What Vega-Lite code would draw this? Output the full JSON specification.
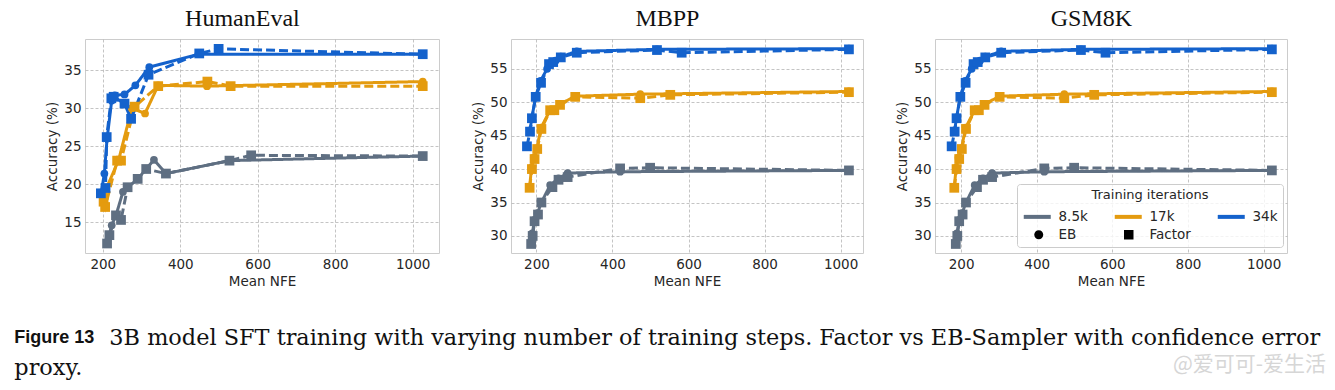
{
  "$schema": "https://vega.github.io/schema/vega-lite/v6.json",
  "padding": {"left": 14, "top": 6, "right": 5, "bottom": 5},
  "background": "white",
  "config": {
    "font": "DejaVu Sans",
    "view": {"stroke": "#cccccc", "strokeWidth": 1},
    "axis": {"domain": false, "ticks": false, "grid": true, "gridColor": "#b5b5b5", "gridDash": [3, 2], "gridWidth": 0.8,
      "labelFont": "DejaVu Sans", "labelFontSize": 13.5, "labelColor": "#262626", "labelPadding": 4,
      "titleFont": "DejaVu Sans", "titleFontSize": 13.5, "titleFontWeight": "normal", "titleColor": "#262626", "titlePadding": 4}
  },
  "datasets": {
    "d": [
      {"task": "HumanEval", "iter": "8.5k", "method": "EB", "nfe": 211, "acc": 12.2},
      {"task": "HumanEval", "iter": "8.5k", "method": "EB", "nfe": 223, "acc": 14.6},
      {"task": "HumanEval", "iter": "8.5k", "method": "EB", "nfe": 234, "acc": 15.9},
      {"task": "HumanEval", "iter": "8.5k", "method": "EB", "nfe": 252, "acc": 19.0},
      {"task": "HumanEval", "iter": "8.5k", "method": "EB", "nfe": 290, "acc": 20.7},
      {"task": "HumanEval", "iter": "8.5k", "method": "EB", "nfe": 312, "acc": 22.0},
      {"task": "HumanEval", "iter": "8.5k", "method": "EB", "nfe": 332, "acc": 23.2},
      {"task": "HumanEval", "iter": "8.5k", "method": "EB", "nfe": 363, "acc": 21.4},
      {"task": "HumanEval", "iter": "8.5k", "method": "EB", "nfe": 527, "acc": 23.1},
      {"task": "HumanEval", "iter": "8.5k", "method": "EB", "nfe": 1026, "acc": 23.7},
      {"task": "HumanEval", "iter": "8.5k", "method": "Factor", "nfe": 211, "acc": 12.2},
      {"task": "HumanEval", "iter": "8.5k", "method": "Factor", "nfe": 217, "acc": 13.3},
      {"task": "HumanEval", "iter": "8.5k", "method": "Factor", "nfe": 234, "acc": 15.9},
      {"task": "HumanEval", "iter": "8.5k", "method": "Factor", "nfe": 247, "acc": 15.3},
      {"task": "HumanEval", "iter": "8.5k", "method": "Factor", "nfe": 264, "acc": 19.6},
      {"task": "HumanEval", "iter": "8.5k", "method": "Factor", "nfe": 290, "acc": 20.7},
      {"task": "HumanEval", "iter": "8.5k", "method": "Factor", "nfe": 312, "acc": 22.0},
      {"task": "HumanEval", "iter": "8.5k", "method": "Factor", "nfe": 363, "acc": 21.4},
      {"task": "HumanEval", "iter": "8.5k", "method": "Factor", "nfe": 527, "acc": 23.1},
      {"task": "HumanEval", "iter": "8.5k", "method": "Factor", "nfe": 583, "acc": 23.8},
      {"task": "HumanEval", "iter": "8.5k", "method": "Factor", "nfe": 1026, "acc": 23.7},
      {"task": "HumanEval", "iter": "17k", "method": "EB", "nfe": 202, "acc": 18.6},
      {"task": "HumanEval", "iter": "17k", "method": "EB", "nfe": 241, "acc": 23.2},
      {"task": "HumanEval", "iter": "17k", "method": "EB", "nfe": 275, "acc": 30.0},
      {"task": "HumanEval", "iter": "17k", "method": "EB", "nfe": 309, "acc": 29.3},
      {"task": "HumanEval", "iter": "17k", "method": "EB", "nfe": 343, "acc": 33.0},
      {"task": "HumanEval", "iter": "17k", "method": "EB", "nfe": 469, "acc": 32.9},
      {"task": "HumanEval", "iter": "17k", "method": "EB", "nfe": 1026, "acc": 33.5},
      {"task": "HumanEval", "iter": "17k", "method": "Factor", "nfe": 202, "acc": 17.7},
      {"task": "HumanEval", "iter": "17k", "method": "Factor", "nfe": 206, "acc": 17.0},
      {"task": "HumanEval", "iter": "17k", "method": "Factor", "nfe": 237, "acc": 23.1},
      {"task": "HumanEval", "iter": "17k", "method": "Factor", "nfe": 247, "acc": 23.1},
      {"task": "HumanEval", "iter": "17k", "method": "Factor", "nfe": 282, "acc": 30.2},
      {"task": "HumanEval", "iter": "17k", "method": "Factor", "nfe": 343, "acc": 32.9},
      {"task": "HumanEval", "iter": "17k", "method": "Factor", "nfe": 470, "acc": 33.5},
      {"task": "HumanEval", "iter": "17k", "method": "Factor", "nfe": 530, "acc": 32.9},
      {"task": "HumanEval", "iter": "17k", "method": "Factor", "nfe": 1026, "acc": 32.9},
      {"task": "HumanEval", "iter": "34k", "method": "EB", "nfe": 196, "acc": 18.9},
      {"task": "HumanEval", "iter": "34k", "method": "EB", "nfe": 204, "acc": 21.4},
      {"task": "HumanEval", "iter": "34k", "method": "EB", "nfe": 211, "acc": 26.0},
      {"task": "HumanEval", "iter": "34k", "method": "EB", "nfe": 223, "acc": 31.0},
      {"task": "HumanEval", "iter": "34k", "method": "EB", "nfe": 231, "acc": 31.7},
      {"task": "HumanEval", "iter": "34k", "method": "EB", "nfe": 256, "acc": 31.8},
      {"task": "HumanEval", "iter": "34k", "method": "EB", "nfe": 284, "acc": 33.0},
      {"task": "HumanEval", "iter": "34k", "method": "EB", "nfe": 320, "acc": 35.4},
      {"task": "HumanEval", "iter": "34k", "method": "EB", "nfe": 447, "acc": 37.1},
      {"task": "HumanEval", "iter": "34k", "method": "EB", "nfe": 1026, "acc": 37.1},
      {"task": "HumanEval", "iter": "34k", "method": "Factor", "nfe": 195, "acc": 18.8},
      {"task": "HumanEval", "iter": "34k", "method": "Factor", "nfe": 207, "acc": 19.5},
      {"task": "HumanEval", "iter": "34k", "method": "Factor", "nfe": 210, "acc": 26.2},
      {"task": "HumanEval", "iter": "34k", "method": "Factor", "nfe": 222, "acc": 31.3},
      {"task": "HumanEval", "iter": "34k", "method": "Factor", "nfe": 228, "acc": 31.5},
      {"task": "HumanEval", "iter": "34k", "method": "Factor", "nfe": 256, "acc": 30.6},
      {"task": "HumanEval", "iter": "34k", "method": "Factor", "nfe": 273, "acc": 28.6},
      {"task": "HumanEval", "iter": "34k", "method": "Factor", "nfe": 318, "acc": 34.4},
      {"task": "HumanEval", "iter": "34k", "method": "Factor", "nfe": 449, "acc": 37.2},
      {"task": "HumanEval", "iter": "34k", "method": "Factor", "nfe": 499, "acc": 37.8},
      {"task": "HumanEval", "iter": "34k", "method": "Factor", "nfe": 1026, "acc": 37.1},

      {"task": "MBPP", "iter": "8.5k", "method": "EB", "nfe": 186, "acc": 28.9},
      {"task": "MBPP", "iter": "8.5k", "method": "EB", "nfe": 189, "acc": 30.4},
      {"task": "MBPP", "iter": "8.5k", "method": "EB", "nfe": 195, "acc": 32.4},
      {"task": "MBPP", "iter": "8.5k", "method": "EB", "nfe": 203, "acc": 33.4},
      {"task": "MBPP", "iter": "8.5k", "method": "EB", "nfe": 212, "acc": 34.9},
      {"task": "MBPP", "iter": "8.5k", "method": "EB", "nfe": 236, "acc": 37.6},
      {"task": "MBPP", "iter": "8.5k", "method": "EB", "nfe": 258, "acc": 38.6},
      {"task": "MBPP", "iter": "8.5k", "method": "EB", "nfe": 282, "acc": 39.4},
      {"task": "MBPP", "iter": "8.5k", "method": "EB", "nfe": 420, "acc": 39.6},
      {"task": "MBPP", "iter": "8.5k", "method": "EB", "nfe": 1022, "acc": 39.8},
      {"task": "MBPP", "iter": "8.5k", "method": "Factor", "nfe": 186, "acc": 28.8},
      {"task": "MBPP", "iter": "8.5k", "method": "Factor", "nfe": 190, "acc": 30.0},
      {"task": "MBPP", "iter": "8.5k", "method": "Factor", "nfe": 195, "acc": 32.2},
      {"task": "MBPP", "iter": "8.5k", "method": "Factor", "nfe": 204, "acc": 33.2},
      {"task": "MBPP", "iter": "8.5k", "method": "Factor", "nfe": 213, "acc": 35.0},
      {"task": "MBPP", "iter": "8.5k", "method": "Factor", "nfe": 242, "acc": 37.3},
      {"task": "MBPP", "iter": "8.5k", "method": "Factor", "nfe": 258, "acc": 38.4},
      {"task": "MBPP", "iter": "8.5k", "method": "Factor", "nfe": 282, "acc": 38.8},
      {"task": "MBPP", "iter": "8.5k", "method": "Factor", "nfe": 420, "acc": 40.1},
      {"task": "MBPP", "iter": "8.5k", "method": "Factor", "nfe": 499, "acc": 40.2},
      {"task": "MBPP", "iter": "8.5k", "method": "Factor", "nfe": 1022, "acc": 39.8},
      {"task": "MBPP", "iter": "17k", "method": "EB", "nfe": 182, "acc": 37.3},
      {"task": "MBPP", "iter": "17k", "method": "EB", "nfe": 187, "acc": 40.2},
      {"task": "MBPP", "iter": "17k", "method": "EB", "nfe": 193, "acc": 41.7},
      {"task": "MBPP", "iter": "17k", "method": "EB", "nfe": 201, "acc": 43.1},
      {"task": "MBPP", "iter": "17k", "method": "EB", "nfe": 212, "acc": 46.2},
      {"task": "MBPP", "iter": "17k", "method": "EB", "nfe": 236, "acc": 48.8},
      {"task": "MBPP", "iter": "17k", "method": "EB", "nfe": 262, "acc": 49.7},
      {"task": "MBPP", "iter": "17k", "method": "EB", "nfe": 302, "acc": 50.9},
      {"task": "MBPP", "iter": "17k", "method": "EB", "nfe": 473, "acc": 51.2},
      {"task": "MBPP", "iter": "17k", "method": "EB", "nfe": 1022, "acc": 51.6},
      {"task": "MBPP", "iter": "17k", "method": "Factor", "nfe": 182, "acc": 37.2},
      {"task": "MBPP", "iter": "17k", "method": "Factor", "nfe": 188, "acc": 40.0},
      {"task": "MBPP", "iter": "17k", "method": "Factor", "nfe": 195, "acc": 41.5},
      {"task": "MBPP", "iter": "17k", "method": "Factor", "nfe": 202, "acc": 43.0},
      {"task": "MBPP", "iter": "17k", "method": "Factor", "nfe": 213, "acc": 46.0},
      {"task": "MBPP", "iter": "17k", "method": "Factor", "nfe": 236, "acc": 48.8},
      {"task": "MBPP", "iter": "17k", "method": "Factor", "nfe": 247, "acc": 48.8},
      {"task": "MBPP", "iter": "17k", "method": "Factor", "nfe": 262, "acc": 49.6},
      {"task": "MBPP", "iter": "17k", "method": "Factor", "nfe": 302, "acc": 50.8},
      {"task": "MBPP", "iter": "17k", "method": "Factor", "nfe": 473, "acc": 50.6},
      {"task": "MBPP", "iter": "17k", "method": "Factor", "nfe": 552, "acc": 51.1},
      {"task": "MBPP", "iter": "17k", "method": "Factor", "nfe": 1022, "acc": 51.5},
      {"task": "MBPP", "iter": "34k", "method": "EB", "nfe": 183, "acc": 45.8},
      {"task": "MBPP", "iter": "34k", "method": "EB", "nfe": 188, "acc": 47.7},
      {"task": "MBPP", "iter": "34k", "method": "EB", "nfe": 198, "acc": 50.9},
      {"task": "MBPP", "iter": "34k", "method": "EB", "nfe": 211, "acc": 53.2},
      {"task": "MBPP", "iter": "34k", "method": "EB", "nfe": 228, "acc": 55.0},
      {"task": "MBPP", "iter": "34k", "method": "EB", "nfe": 236, "acc": 55.8},
      {"task": "MBPP", "iter": "34k", "method": "EB", "nfe": 250, "acc": 56.2},
      {"task": "MBPP", "iter": "34k", "method": "EB", "nfe": 264, "acc": 56.8},
      {"task": "MBPP", "iter": "34k", "method": "EB", "nfe": 306, "acc": 57.6},
      {"task": "MBPP", "iter": "34k", "method": "EB", "nfe": 517, "acc": 57.9},
      {"task": "MBPP", "iter": "34k", "method": "EB", "nfe": 1022, "acc": 58.0},
      {"task": "MBPP", "iter": "34k", "method": "Factor", "nfe": 175, "acc": 43.4},
      {"task": "MBPP", "iter": "34k", "method": "Factor", "nfe": 183, "acc": 45.6},
      {"task": "MBPP", "iter": "34k", "method": "Factor", "nfe": 188, "acc": 47.6},
      {"task": "MBPP", "iter": "34k", "method": "Factor", "nfe": 198, "acc": 50.8},
      {"task": "MBPP", "iter": "34k", "method": "Factor", "nfe": 212, "acc": 52.9},
      {"task": "MBPP", "iter": "34k", "method": "Factor", "nfe": 233, "acc": 55.7},
      {"task": "MBPP", "iter": "34k", "method": "Factor", "nfe": 244, "acc": 56.0},
      {"task": "MBPP", "iter": "34k", "method": "Factor", "nfe": 264, "acc": 56.7},
      {"task": "MBPP", "iter": "34k", "method": "Factor", "nfe": 306, "acc": 57.4},
      {"task": "MBPP", "iter": "34k", "method": "Factor", "nfe": 517, "acc": 57.8},
      {"task": "MBPP", "iter": "34k", "method": "Factor", "nfe": 582, "acc": 57.4},
      {"task": "MBPP", "iter": "34k", "method": "Factor", "nfe": 1022, "acc": 57.9},

      {"task": "GSM8K", "iter": "8.5k", "method": "EB", "nfe": 186, "acc": 28.9},
      {"task": "GSM8K", "iter": "8.5k", "method": "EB", "nfe": 189, "acc": 30.4},
      {"task": "GSM8K", "iter": "8.5k", "method": "EB", "nfe": 195, "acc": 32.4},
      {"task": "GSM8K", "iter": "8.5k", "method": "EB", "nfe": 203, "acc": 33.4},
      {"task": "GSM8K", "iter": "8.5k", "method": "EB", "nfe": 212, "acc": 34.9},
      {"task": "GSM8K", "iter": "8.5k", "method": "EB", "nfe": 236, "acc": 37.6},
      {"task": "GSM8K", "iter": "8.5k", "method": "EB", "nfe": 258, "acc": 38.6},
      {"task": "GSM8K", "iter": "8.5k", "method": "EB", "nfe": 282, "acc": 39.4},
      {"task": "GSM8K", "iter": "8.5k", "method": "EB", "nfe": 420, "acc": 39.6},
      {"task": "GSM8K", "iter": "8.5k", "method": "EB", "nfe": 1022, "acc": 39.8},
      {"task": "GSM8K", "iter": "8.5k", "method": "Factor", "nfe": 186, "acc": 28.8},
      {"task": "GSM8K", "iter": "8.5k", "method": "Factor", "nfe": 190, "acc": 30.0},
      {"task": "GSM8K", "iter": "8.5k", "method": "Factor", "nfe": 195, "acc": 32.2},
      {"task": "GSM8K", "iter": "8.5k", "method": "Factor", "nfe": 204, "acc": 33.2},
      {"task": "GSM8K", "iter": "8.5k", "method": "Factor", "nfe": 213, "acc": 35.0},
      {"task": "GSM8K", "iter": "8.5k", "method": "Factor", "nfe": 242, "acc": 37.3},
      {"task": "GSM8K", "iter": "8.5k", "method": "Factor", "nfe": 258, "acc": 38.4},
      {"task": "GSM8K", "iter": "8.5k", "method": "Factor", "nfe": 282, "acc": 38.8},
      {"task": "GSM8K", "iter": "8.5k", "method": "Factor", "nfe": 420, "acc": 40.1},
      {"task": "GSM8K", "iter": "8.5k", "method": "Factor", "nfe": 499, "acc": 40.2},
      {"task": "GSM8K", "iter": "8.5k", "method": "Factor", "nfe": 1022, "acc": 39.8},
      {"task": "GSM8K", "iter": "17k", "method": "EB", "nfe": 182, "acc": 37.3},
      {"task": "GSM8K", "iter": "17k", "method": "EB", "nfe": 187, "acc": 40.2},
      {"task": "GSM8K", "iter": "17k", "method": "EB", "nfe": 193, "acc": 41.7},
      {"task": "GSM8K", "iter": "17k", "method": "EB", "nfe": 201, "acc": 43.1},
      {"task": "GSM8K", "iter": "17k", "method": "EB", "nfe": 212, "acc": 46.2},
      {"task": "GSM8K", "iter": "17k", "method": "EB", "nfe": 236, "acc": 48.8},
      {"task": "GSM8K", "iter": "17k", "method": "EB", "nfe": 262, "acc": 49.7},
      {"task": "GSM8K", "iter": "17k", "method": "EB", "nfe": 302, "acc": 50.9},
      {"task": "GSM8K", "iter": "17k", "method": "EB", "nfe": 473, "acc": 51.2},
      {"task": "GSM8K", "iter": "17k", "method": "EB", "nfe": 1022, "acc": 51.6},
      {"task": "GSM8K", "iter": "17k", "method": "Factor", "nfe": 182, "acc": 37.2},
      {"task": "GSM8K", "iter": "17k", "method": "Factor", "nfe": 188, "acc": 40.0},
      {"task": "GSM8K", "iter": "17k", "method": "Factor", "nfe": 195, "acc": 41.5},
      {"task": "GSM8K", "iter": "17k", "method": "Factor", "nfe": 202, "acc": 43.0},
      {"task": "GSM8K", "iter": "17k", "method": "Factor", "nfe": 213, "acc": 46.0},
      {"task": "GSM8K", "iter": "17k", "method": "Factor", "nfe": 236, "acc": 48.8},
      {"task": "GSM8K", "iter": "17k", "method": "Factor", "nfe": 247, "acc": 48.8},
      {"task": "GSM8K", "iter": "17k", "method": "Factor", "nfe": 262, "acc": 49.6},
      {"task": "GSM8K", "iter": "17k", "method": "Factor", "nfe": 302, "acc": 50.8},
      {"task": "GSM8K", "iter": "17k", "method": "Factor", "nfe": 473, "acc": 50.6},
      {"task": "GSM8K", "iter": "17k", "method": "Factor", "nfe": 552, "acc": 51.1},
      {"task": "GSM8K", "iter": "17k", "method": "Factor", "nfe": 1022, "acc": 51.5},
      {"task": "GSM8K", "iter": "34k", "method": "EB", "nfe": 183, "acc": 45.8},
      {"task": "GSM8K", "iter": "34k", "method": "EB", "nfe": 188, "acc": 47.7},
      {"task": "GSM8K", "iter": "34k", "method": "EB", "nfe": 198, "acc": 50.9},
      {"task": "GSM8K", "iter": "34k", "method": "EB", "nfe": 211, "acc": 53.2},
      {"task": "GSM8K", "iter": "34k", "method": "EB", "nfe": 228, "acc": 55.0},
      {"task": "GSM8K", "iter": "34k", "method": "EB", "nfe": 236, "acc": 55.8},
      {"task": "GSM8K", "iter": "34k", "method": "EB", "nfe": 250, "acc": 56.2},
      {"task": "GSM8K", "iter": "34k", "method": "EB", "nfe": 264, "acc": 56.8},
      {"task": "GSM8K", "iter": "34k", "method": "EB", "nfe": 306, "acc": 57.6},
      {"task": "GSM8K", "iter": "34k", "method": "EB", "nfe": 517, "acc": 57.9},
      {"task": "GSM8K", "iter": "34k", "method": "EB", "nfe": 1022, "acc": 58.0},
      {"task": "GSM8K", "iter": "34k", "method": "Factor", "nfe": 175, "acc": 43.4},
      {"task": "GSM8K", "iter": "34k", "method": "Factor", "nfe": 183, "acc": 45.6},
      {"task": "GSM8K", "iter": "34k", "method": "Factor", "nfe": 188, "acc": 47.6},
      {"task": "GSM8K", "iter": "34k", "method": "Factor", "nfe": 198, "acc": 50.8},
      {"task": "GSM8K", "iter": "34k", "method": "Factor", "nfe": 212, "acc": 52.9},
      {"task": "GSM8K", "iter": "34k", "method": "Factor", "nfe": 233, "acc": 55.7},
      {"task": "GSM8K", "iter": "34k", "method": "Factor", "nfe": 244, "acc": 56.0},
      {"task": "GSM8K", "iter": "34k", "method": "Factor", "nfe": 264, "acc": 56.7},
      {"task": "GSM8K", "iter": "34k", "method": "Factor", "nfe": 306, "acc": 57.4},
      {"task": "GSM8K", "iter": "34k", "method": "Factor", "nfe": 517, "acc": 57.8},
      {"task": "GSM8K", "iter": "34k", "method": "Factor", "nfe": 582, "acc": 57.4},
      {"task": "GSM8K", "iter": "34k", "method": "Factor", "nfe": 1022, "acc": 57.9}
    ]
  },
  "title": {"text": "@爱可可-爱生活", "orient": "bottom", "anchor": "end", "offset": 0, "dx": 6, "dy": -25, "font": "Noto Sans CJK SC", "fontSize": 21, "fontWeight": "normal", "color": "#d6d6d6"},
  "vconcat": [
    {
      "title": {"text": "3B model SFT training with varying number of training steps. Factor vs EB-Sampler with confidence error", "orient": "bottom", "anchor": "start", "offset": 0, "dx": 95, "dy": -52, "font": "DejaVu Serif", "fontSize": 22.4, "fontWeight": "normal", "color": "#111111"},
      "vconcat": [
        {
          "title": {"text": "Figure 13", "subtitle": "proxy.", "orient": "bottom", "anchor": "start", "offset": 40, "dx": -31, "font": "Liberation Sans", "fontSize": 18, "fontWeight": "bold", "color": "#111111", "subtitleFont": "DejaVu Serif", "subtitleFontSize": 22.4, "subtitleColor": "#111111", "subtitlePadding": 10},
          "spacing": 31,
          "resolve": {"scale": {"color": "independent", "x": "independent", "y": "independent", "shape": "independent", "size": "independent", "strokeDash": "independent"}},
          "hconcat": [
            {
              "width": 354, "height": 214,
              "title": {"text": "HumanEval", "frame": "bounds", "anchor": "middle", "font": "Liberation Serif", "fontSize": 24, "fontWeight": "normal", "color": "#111111", "offset": 8},
              "data": {"name": "d"},
              "transform": [{"filter": "datum.task === 'HumanEval'"}],
              "encoding": {
                "x": {"field": "nfe", "type": "quantitative", "scale": {"domain": [154, 1068], "nice": false, "zero": false}, "axis": {"values": [200, 400, 600, 800, 1000], "format": "d", "title": "Mean NFE"}},
                "y": {"field": "acc", "type": "quantitative", "scale": {"domain": [10.95, 39.1], "nice": false, "zero": false}, "axis": {"values": [15, 20, 25, 30, 35], "title": "Accuracy (%)"}},
                "color": {"field": "iter", "type": "nominal", "scale": {"domain": ["8.5k", "17k", "34k", "EB", "Factor"], "range": ["#5f6f82", "#e49b0f", "#1462cc", "#000000", "#000000"]}, "legend": null}
              },
              "layer": [
                {"mark": {"type": "line", "strokeWidth": 3}, "encoding": {"strokeDash": {"field": "method", "type": "nominal", "scale": {"domain": ["EB", "Factor"], "range": [[1, 0], [9, 4]]}, "legend": null}}},
                {"mark": {"type": "point", "filled": true, "opacity": 1}, "encoding": {"shape": {"field": "method", "type": "nominal", "scale": {"domain": ["EB", "Factor"], "range": ["circle", "square"]}, "legend": null}, "size": {"field": "method", "type": "nominal", "scale": {"domain": ["EB", "Factor"], "range": [60, 95]}, "legend": null}}}
              ]
            },
            {
              "width": 352, "height": 214,
              "title": {"text": "MBPP", "frame": "bounds", "anchor": "middle", "font": "Liberation Serif", "fontSize": 24, "fontWeight": "normal", "color": "#111111", "offset": 8},
              "data": {"name": "d"},
              "transform": [{"filter": "datum.task === 'MBPP'"}],
              "encoding": {
                "x": {"field": "nfe", "type": "quantitative", "scale": {"domain": [133, 1059], "nice": false, "zero": false}, "axis": {"values": [200, 400, 600, 800, 1000], "format": "d", "title": "Mean NFE"}},
                "y": {"field": "acc", "type": "quantitative", "scale": {"domain": [27.45, 59.45], "nice": false, "zero": false}, "axis": {"values": [30, 35, 40, 45, 50, 55], "title": "Accuracy (%)"}},
                "color": {"field": "iter", "type": "nominal", "scale": {"domain": ["8.5k", "17k", "34k", "EB", "Factor"], "range": ["#5f6f82", "#e49b0f", "#1462cc", "#000000", "#000000"]}, "legend": null}
              },
              "layer": [
                {"mark": {"type": "line", "strokeWidth": 3}, "encoding": {"strokeDash": {"field": "method", "type": "nominal", "scale": {"domain": ["EB", "Factor"], "range": [[1, 0], [9, 4]]}, "legend": null}}},
                {"mark": {"type": "point", "filled": true, "opacity": 1}, "encoding": {"shape": {"field": "method", "type": "nominal", "scale": {"domain": ["EB", "Factor"], "range": ["circle", "square"]}, "legend": null}, "size": {"field": "method", "type": "nominal", "scale": {"domain": ["EB", "Factor"], "range": [60, 95]}, "legend": null}}}
              ]
            },
            {
              "width": 352, "height": 214,
              "title": {"text": "GSM8K", "frame": "bounds", "anchor": "middle", "font": "Liberation Serif", "fontSize": 24, "fontWeight": "normal", "color": "#111111", "offset": 8},
              "data": {"name": "d"},
              "transform": [{"filter": "datum.task === 'GSM8K'"}],
              "encoding": {
                "x": {"field": "nfe", "type": "quantitative", "scale": {"domain": [131, 1062], "nice": false, "zero": false}, "axis": {"values": [200, 400, 600, 800, 1000], "format": "d", "title": "Mean NFE"}},
                "y": {"field": "acc", "type": "quantitative", "scale": {"domain": [27.45, 59.45], "nice": false, "zero": false}, "axis": {"values": [30, 35, 40, 45, 50, 55], "title": "Accuracy (%)"}},
                "color": {"field": "iter", "type": "nominal", "scale": {"domain": ["8.5k", "17k", "34k", "EB", "Factor"], "range": ["#5f6f82", "#e49b0f", "#1462cc", "#000000", "#000000"]},
                  "legend": {
                    "orient": "none", "legendX": 82, "legendY": 145,
                    "title": "Training iterations", "titleAnchor": "middle", "titleFont": "DejaVu Sans", "titleFontSize": 13, "titleFontWeight": "normal", "titleColor": "#262626", "titlePadding": 8,
                    "labelFont": "DejaVu Sans", "labelFontSize": 13.5, "labelColor": "#262626", "labelOffset": 23,
                    "columns": 3, "direction": "horizontal", "columnPadding": 18, "rowPadding": 2, "symbolSize": 100,
                    "padding": 5, "fillColor": "rgba(255,255,255,0.8)", "strokeColor": "#cccccc", "cornerRadius": 3,
                    "encode": {"symbols": {"update": {
                      "shape": {"signal": "datum.value === 'EB' ? 'M1.1,0A0.9,0.9,0,1,1,2.9,0A0.9,0.9,0,1,1,1.1,0Z' : datum.value === 'Factor' ? 'M0.85,-0.95H2.75V0.95H0.85Z' : 'M-1,0H4.4'"},
                      "size": {"value": 100},
                      "fill": {"signal": "datum.value === 'EB' || datum.value === 'Factor' ? '#000000' : 'transparent'"},
                      "stroke": {"signal": "datum.value === '8.5k' ? '#5f6f82' : datum.value === '17k' ? '#e49b0f' : datum.value === '34k' ? '#1462cc' : 'transparent'"},
                      "strokeWidth": {"signal": "datum.value === 'EB' || datum.value === 'Factor' ? 0 : 4"},
                      "opacity": {"value": 1}
                    }}}
                  }
                }
              },
              "layer": [
                {"mark": {"type": "line", "strokeWidth": 3}, "encoding": {"strokeDash": {"field": "method", "type": "nominal", "scale": {"domain": ["EB", "Factor"], "range": [[1, 0], [9, 4]]}, "legend": null}}},
                {"mark": {"type": "point", "filled": true, "opacity": 1}, "encoding": {"shape": {"field": "method", "type": "nominal", "scale": {"domain": ["EB", "Factor"], "range": ["circle", "square"]}, "legend": null}, "size": {"field": "method", "type": "nominal", "scale": {"domain": ["EB", "Factor"], "range": [60, 95]}, "legend": null}}}
              ]
            }
          ]
        }
      ]
    }
  ]
}
